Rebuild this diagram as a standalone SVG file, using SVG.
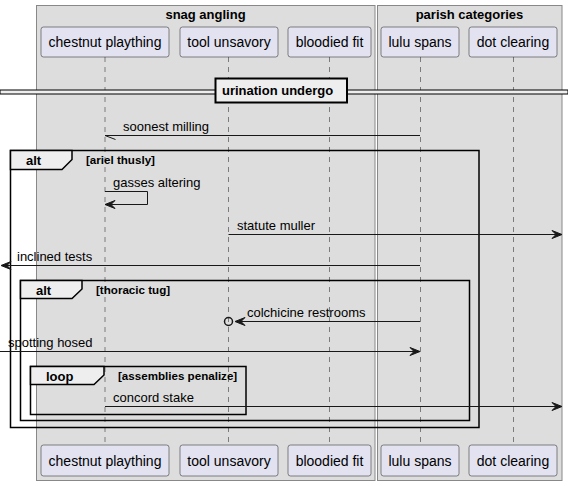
<svg xmlns="http://www.w3.org/2000/svg" width="568" height="486" viewBox="0 0 568 486">
<style>
text{font-family:"Liberation Sans",Arial,sans-serif;fill:#000}
.box{fill:#dddddd;stroke:#888888;stroke-width:1}
.btitle{font-size:13px;font-weight:bold;text-anchor:middle}
.part{fill:#e2e2f0;stroke:#181818;stroke-width:0.5}
.pname{font-size:14px;text-anchor:middle}
.life{stroke:#181818;stroke-width:0.5;stroke-dasharray:5,5;fill:none}
.frame{fill:none;stroke:#000;stroke-width:1.5}
.tab{fill:#eeeeee;stroke:#000;stroke-width:1.5}
.ftitle{font-size:13px;font-weight:bold}
.fcond{font-size:11.6px;font-weight:bold}
.msg{stroke:#181818;stroke-width:1;fill:none}
.head{fill:#181818;stroke:#181818;stroke-width:1}
.mtext{font-size:13px}
</style>
<g id="boxes">
<rect class="box" x="36.5" y="5.5" width="338.5" height="475"/>
<text class="btitle" x="205.5" y="19">snag angling</text>
<rect class="box" x="377.5" y="5.5" width="184.5" height="475"/>
<text class="btitle" x="469.5" y="19">parish categories</text>
</g>
<g id="chestnut">
<line class="life" x1="105" y1="57" x2="105" y2="445"/>
<rect class="part" x="41" y="27" width="128" height="30" rx="2.5"/>
<text class="pname" x="105" y="47">chestnut plaything</text>
<rect class="part" x="41" y="445" width="128" height="31" rx="2.5"/>
<text class="pname" x="105" y="465.5">chestnut plaything</text>
</g>
<g id="tool">
<line class="life" x1="228.5" y1="57" x2="228.5" y2="445"/>
<rect class="part" x="180" y="27" width="98" height="30" rx="2.5"/>
<text class="pname" x="229" y="47">tool unsavory</text>
<rect class="part" x="180" y="445" width="98" height="31" rx="2.5"/>
<text class="pname" x="229" y="465.5">tool unsavory</text>
</g>
<g id="bloodied">
<line class="life" x1="329.5" y1="57" x2="329.5" y2="445"/>
<rect class="part" x="288" y="27" width="83" height="30" rx="2.5"/>
<text class="pname" x="329.5" y="47">bloodied fit</text>
<rect class="part" x="288" y="445" width="83" height="31" rx="2.5"/>
<text class="pname" x="329.5" y="465.5">bloodied fit</text>
</g>
<g id="lulu">
<line class="life" x1="420.5" y1="57" x2="420.5" y2="445"/>
<rect class="part" x="381" y="27" width="78" height="30" rx="2.5"/>
<text class="pname" x="420" y="47">lulu spans</text>
<rect class="part" x="381" y="445" width="78" height="31" rx="2.5"/>
<text class="pname" x="420" y="465.5">lulu spans</text>
</g>
<g id="dot">
<line class="life" x1="513.5" y1="57" x2="513.5" y2="445"/>
<rect class="part" x="469" y="27" width="88" height="30" rx="2.5"/>
<text class="pname" x="513" y="47">dot clearing</text>
<rect class="part" x="469" y="445" width="88" height="31" rx="2.5"/>
<text class="pname" x="513" y="465.5">dot clearing</text>
</g>
<g id="divider">
<rect x="0" y="90" width="568" height="4" fill="#eeeeee" stroke="#000" stroke-width="1"/>
<rect x="215.5" y="78.5" width="131.5" height="24" fill="#eeeeee" stroke="#000" stroke-width="2"/>
<text class="ftitle" x="222" y="95">urination undergo</text>
</g>
<g id="frames">
<rect class="frame" x="10.5" y="150.5" width="468.5" height="277"/>
<path class="tab" d="M10.5,150.5 H72 V159.5 L62,169.5 H10.5 Z"/>
<text class="ftitle" x="26" y="165">alt</text>
<text class="fcond" x="86" y="164">[ariel thusly]</text>
<rect class="frame" x="20.5" y="280.5" width="449" height="140"/>
<path class="tab" d="M20.5,280.5 H82 V289 L72,298.5 H20.5 Z"/>
<text class="ftitle" x="36" y="295">alt</text>
<text class="fcond" x="96" y="294">[thoracic tug]</text>
<rect class="frame" x="30.5" y="366.5" width="215.5" height="48"/>
<path class="tab" d="M30.5,366.5 H104 V375 L94,384.5 H30.5 Z"/>
<text class="ftitle" x="46" y="381">loop</text>
<text class="fcond" x="118" y="380">[assemblies penalize]</text>
</g>
<g id="connectors">
<line class="msg" x1="420" y1="135.5" x2="105" y2="135.5"/>
<line class="msg" x1="105" y1="135.5" x2="115.5" y2="139.5"/>
<text class="mtext" x="123" y="131">soonest milling</text>
<polyline class="msg" points="105,191.5 147.5,191.5 147.5,204.5 105,204.5"/>
<polygon class="head" points="105,204.5 115,200.5 111,204.5 115,208.5"/>
<text class="mtext" x="113" y="187">gasses altering</text>
<line class="msg" x1="228.5" y1="234.5" x2="561" y2="234.5"/>
<polygon class="head" points="562,234.5 552,230.5 556,234.5 552,238.5"/>
<text class="mtext" x="237" y="230">statute muller</text>
<line class="msg" x1="420" y1="265.5" x2="2" y2="265.5"/>
<polygon class="head" points="1,265.5 11,261.5 7,265.5 11,269.5"/>
<text class="mtext" x="17" y="261">inclined tests</text>
<line class="msg" x1="420" y1="321.5" x2="236" y2="321.5"/>
<polygon class="head" points="235,321.5 245,317.5 241,321.5 245,325.5"/>
<circle cx="228.5" cy="321.5" r="4" fill="none" stroke="#181818" stroke-width="1.5"/>
<text class="mtext" x="247" y="317">colchicine restrooms</text>
<line class="msg" x1="0" y1="351.5" x2="419" y2="351.5"/>
<polygon class="head" points="420,351.5 410,347.5 414,351.5 410,355.5"/>
<text class="mtext" x="8" y="347">spotting hosed</text>
<line class="msg" x1="105" y1="406.5" x2="561" y2="406.5"/>
<polygon class="head" points="562,406.5 552,402.5 556,406.5 552,410.5"/>
<text class="mtext" x="113" y="402">concord stake</text>
</g>
</svg>
